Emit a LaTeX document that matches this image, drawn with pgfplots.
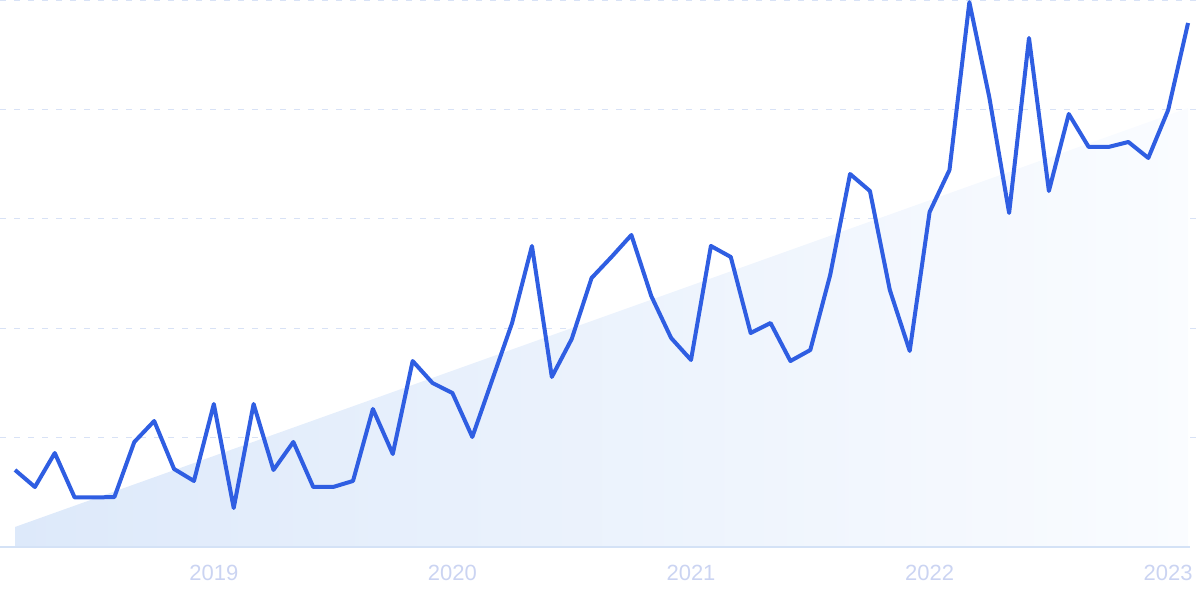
\documentclass[border=0pt]{standalone}
\usepackage{pgfplots}
\pgfplotsset{compat=1.18}
\usepackage{pgfplotstable}
\usepackage{fontspec}
\setmainfont{Liberation Sans}
\definecolor{linec}{RGB}{47,94,226}
\definecolor{gridc}{RGB}{216,226,246}
\definecolor{basec}{RGB}{212,226,246}
\definecolor{labelc}{RGB}{203,212,242}
\definecolor{areaL}{RGB}{221,233,250}
\definecolor{areaR}{RGB}{250,252,255}
\pgfplotstableread{
i v
0 14.08
1 10.97
2 17.18
3 9.05
4 9.05
5 9.14
6 19.2
7 23.03
8 14.26
9 12.07
10 26.14
11 7.13
12 26.14
13 14.08
14 19.2
15 10.97
16 10.97
17 12.07
18 25.23
19 17.0
20 34.0
21 29.98
22 28.15
23 20.11
24 30.53
25 40.95
26 55.03
27 31.08
28 38.03
29 49.18
30 53.02
31 57.04
32 45.89
33 38.21
34 34.19
35 55.03
36 53.02
37 39.12
38 40.95
39 34.0
40 36.01
41 49.73
42 68.19
43 65.08
44 46.98
45 35.83
46 61.24
47 68.92
48 99.6
49 82.27
50 61.06
51 93.05
52 65.08
53 79.16
54 73.13
55 73.13
56 74.04
57 71.12
58 79.89
59 95.8
}\series
\begin{document}
\begin{tikzpicture}
\useasboundingbox (0,-26pt) rectangle (600pt,273.5pt);
\begin{axis}[
  at={(0,0)}, anchor=south west,
  scale only axis, width=600pt, height=273.5pt,
  xmin=-0.755, xmax=59.6, ymin=0, ymax=100,
  clip=false,
  axis line style={draw=none},
  tick style={draw=none},
  major tick length=0pt,
  ytick={20,40,60,80,100}, yticklabels={},
  ymajorgrids,
  grid style={color=gridc, line width=0.6pt, dash pattern=on 3pt off 4pt},
  xtick={10,22,34,46,58},
  xticklabels={2019,2020,2021,2022,2023},
  xticklabel style={font=\fontsize{11}{13}\selectfont, text=labelc, anchor=center, yshift=-13pt},
]
\addplot[draw=none, left color=areaL, right color=areaR] coordinates {(0,3.66) (59,80.26)} \closedcycle;
\addplot[basec, line width=0.8pt] coordinates {(-0.755,0) (59.1,0)};
\addplot[linec, line width=2pt, line join=round, mark=none] table[x=i, y=v] {\series};
\end{axis}
\end{tikzpicture}
\end{document}
